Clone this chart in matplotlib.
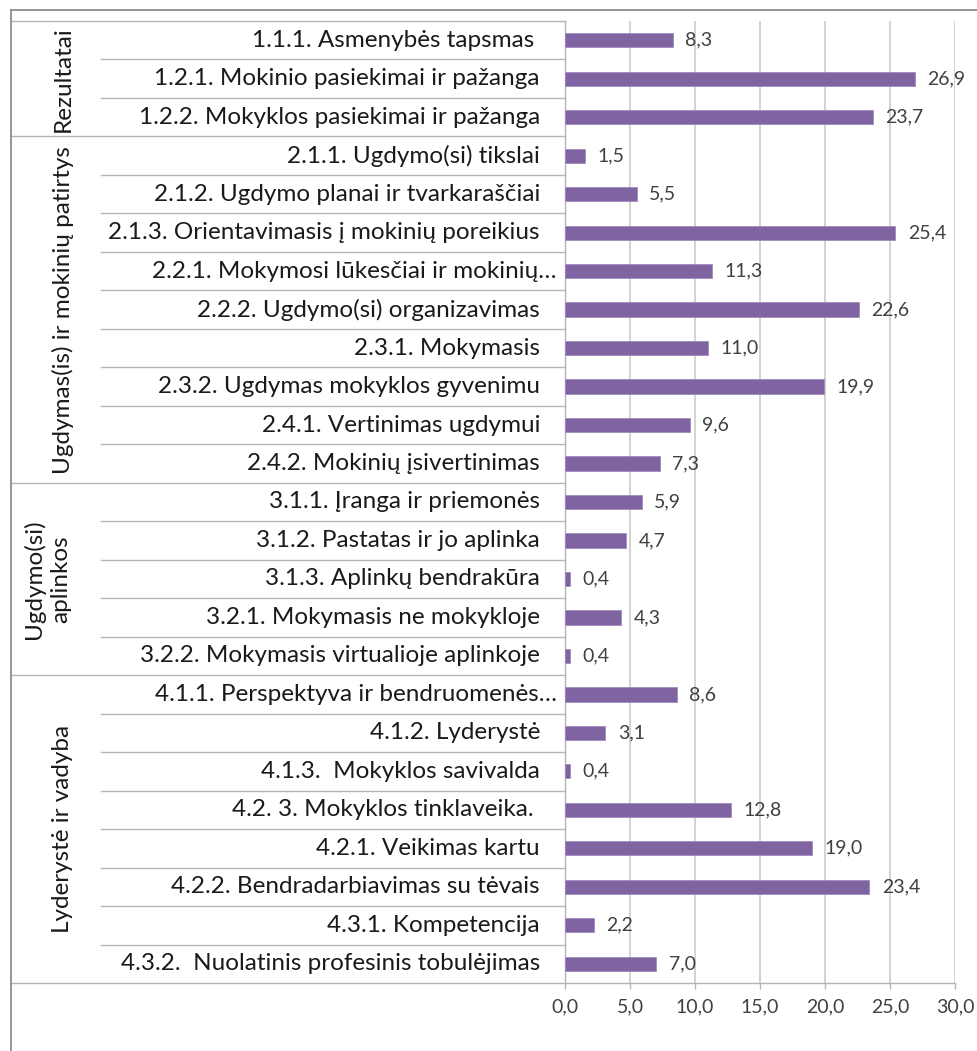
import numpy as np
import matplotlib.pyplot as plt
from matplotlib.lines import Line2D
from matplotlib.transforms import blended_transform_factory

plt.rcParams['font.family'] = ['Lato', 'DejaVu Sans']

W, H = 978, 1051

# ===== data =====
labels = [
    "1.1.1. Asmenybės tapsmas ",
    "1.2.1. Mokinio pasiekimai ir pažanga",
    "1.2.2. Mokyklos pasiekimai ir pažanga",
    "2.1.1. Ugdymo(si) tikslai",
    "2.1.2. Ugdymo planai ir tvarkaraščiai",
    "2.1.3. Orientavimasis į mokinių poreikius",
    "2.2.1. Mokymosi lūkesčiai ir mokinių…",
    "2.2.2. Ugdymo(si) organizavimas",
    "2.3.1. Mokymasis",
    "2.3.2. Ugdymas mokyklos gyvenimu",
    "2.4.1. Vertinimas ugdymui",
    "2.4.2. Mokinių įsivertinimas",
    "3.1.1. Įranga ir priemonės",
    "3.1.2. Pastatas ir jo aplinka",
    "3.1.3. Aplinkų bendrakūra",
    "3.2.1. Mokymasis ne mokykloje",
    "3.2.2. Mokymasis virtualioje aplinkoje",
    "4.1.1. Perspektyva ir bendruomenės…",
    "4.1.2. Lyderystė",
    "4.1.3.  Mokyklos savivalda",
    "4.2. 3. Mokyklos tinklaveika. ",
    "4.2.1. Veikimas kartu",
    "4.2.2. Bendradarbiavimas su tėvais",
    "4.3.1. Kompetencija",
    "4.3.2.  Nuolatinis profesinis tobulėjimas",
]
values = [8.3, 26.9, 23.7,
          1.5, 5.5, 25.4, 11.3, 22.6, 11.0, 19.9, 9.6, 7.3,
          5.9, 4.7, 0.4, 4.3, 0.4,
          8.6, 3.1, 0.4, 12.8, 19.0, 23.4, 2.2, 7.0]
groups = ["Rezultatai", "Ugdymas(is) ir mokinių patirtys",
          "Ugdymo(si)\naplinkos", "Lyderystė ir vadyba"]
group_sizes = [3, 9, 5, 8]
x_ticks = [0, 5, 10, 15, 20, 25, 30]

BAR_COLOR = '#8064A2'
LINE_COLOR = '#b4b4b4'
FRAME_COLOR = '#8c8c8c'


def fmt(v):
    return f"{v:.1f}".replace('.', ',')


fig = plt.figure(figsize=(W / 100, H / 100), dpi=100)
ax = fig.add_axes([565 / W, 1 - 983 / H, (955 - 565) / W, (983 - 21) / H])

y = np.arange(len(values))
ax.barh(y, values, height=0.37, color=BAR_COLOR, edgecolor='#a08bbd',
        linewidth=0.6, zorder=3)
ax.set_ylim(len(values) - 0.5, -0.5)
ax.set_xlim(0, 30)
ax.set_xticks(x_ticks)
ax.set_xticklabels([fmt(t) for t in x_ticks])
ax.set_yticks([])

for s in ['top', 'right']:
    ax.spines[s].set_visible(False)
ax.spines['left'].set_color(LINE_COLOR)
ax.spines['bottom'].set_color(LINE_COLOR)
ax.spines['left'].set_linewidth(1.0)
ax.spines['bottom'].set_linewidth(1.0)
ax.grid(axis='x', color='#c8c8c8', linewidth=1.1)
ax.set_axisbelow(True)
ax.tick_params(axis='x', length=4, width=1.0, color=LINE_COLOR,
               labelsize=14, labelcolor='#404040', pad=7)

# value labels
for i, v in enumerate(values):
    ax.annotate(fmt(v), xy=(v, i), xytext=(9, 0), textcoords='offset points',
                va='center', ha='left', fontsize=14, color='#404040')

# ===== left table (category + group labels) =====
tr = blended_transform_factory(fig.transFigure, ax.transData)

bounds = np.cumsum([0] + group_sizes)
group_edges = set(bounds.tolist())
for k in range(len(values) + 1):
    yb = k - 0.5
    x0 = 11 / W if k in group_edges else 101 / W
    ax.plot([x0, 565 / W], [yb, yb], transform=tr, color=LINE_COLOR,
            linewidth=1.0, clip_on=False)

for i, lab in enumerate(labels):
    xr = 557 if lab.endswith('…') else 540
    ax.text(xr / W, i, lab, transform=tr, ha='right', va='center',
            fontsize=17.5, color='#1a1a1a')

for g, start, n in zip(groups, bounds[:-1], group_sizes):
    yc = start + (n - 1) / 2
    xc = 47 if '\n' in g else 63
    ax.text(xc / W, yc, g, transform=tr, rotation=90, ha='center',
            va='center', multialignment='center', fontsize=17.5,
            color='#1a1a1a', linespacing=1.3)

# outer frame (extends past the picture on right / bottom)
fig.add_artist(Line2D([11 / W, 1], [1 - 10 / H, 1 - 10 / H],
                      transform=fig.transFigure, color=FRAME_COLOR, linewidth=1.3))
fig.add_artist(Line2D([11 / W, 11 / W], [0, 1 - 10 / H],
                      transform=fig.transFigure, color=FRAME_COLOR, linewidth=1.3))

fig.savefig('out.png', dpi=100)
